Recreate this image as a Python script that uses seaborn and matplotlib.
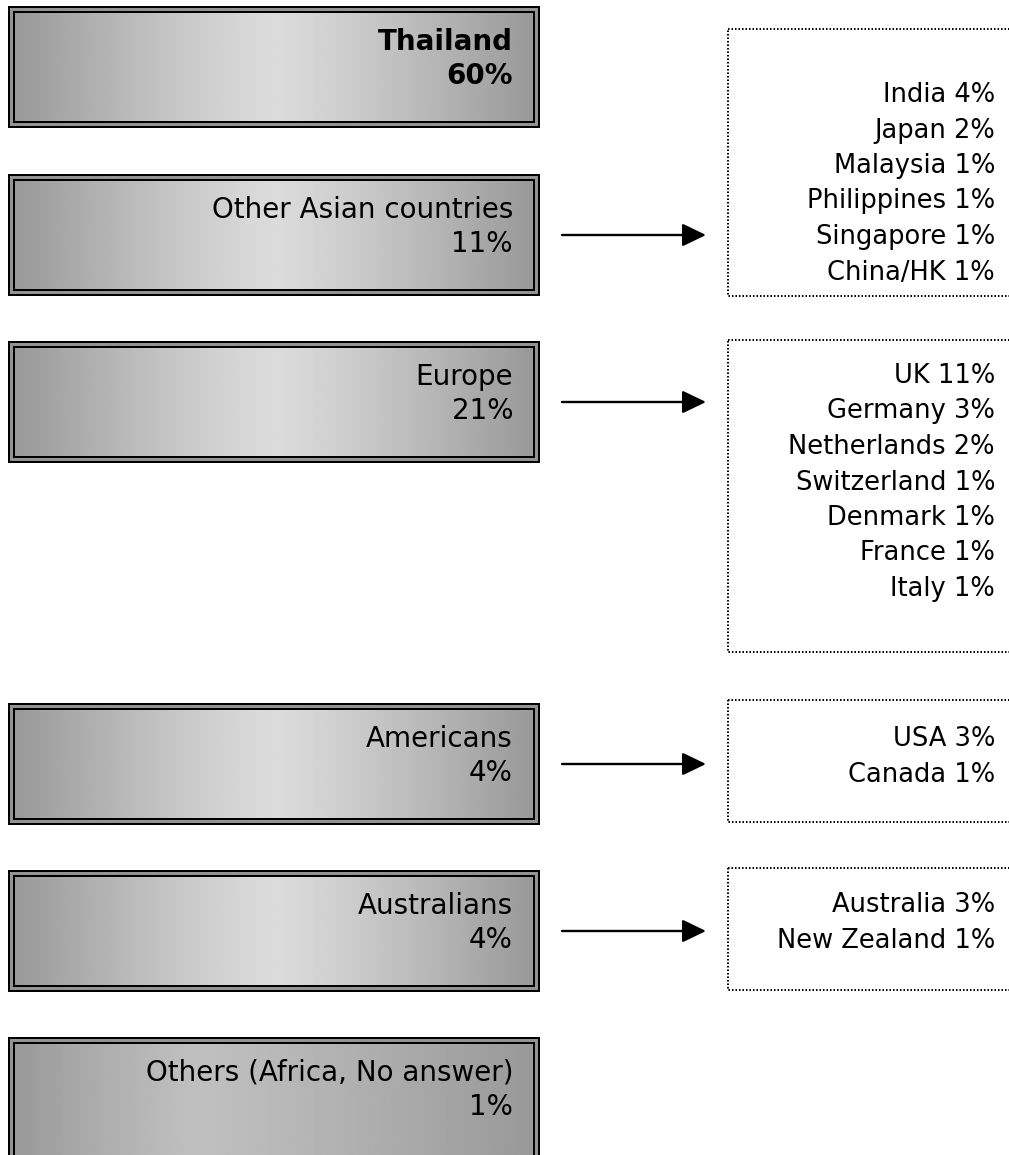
import numpy as np
import matplotlib
matplotlib.use("Agg")
import matplotlib.pyplot as plt
from matplotlib.patches import Rectangle
import seaborn as sns

# ---------------- data ----------------
regions = ["Thailand", "Other Asian countries", "Europe", "Americans",
           "Australians", "Others (Africa, No answer)"]
region_pct = [60, 11, 21, 4, 4, 1]

asia_countries = ["India", "Japan", "Malaysia", "Philippines", "Singapore", "China/HK"]
asia_pct = [4, 2, 1, 1, 1, 1]
europe_countries = ["UK", "Germany", "Netherlands", "Switzerland", "Denmark", "France", "Italy"]
europe_pct = [11, 3, 2, 1, 1, 1, 1]
america_countries = ["USA", "Canada"]
america_pct = [3, 1]
oceania_countries = ["Australia", "New Zealand"]
oceania_pct = [3, 1]

# ---------------- style / layout ----------------
sns.set_theme(style="white")
plt.rcParams["font.family"] = ["DejaVu Sans"]

W, H = 1009, 1155
fig = plt.figure(figsize=(W / 100, H / 100), dpi=100)
ax = fig.add_axes([0, 0, 1, 1])
ax.set_xlim(0, W)
ax.set_ylim(H, 0)
ax.axis("off")

box_x0, box_x1 = 8, 540
box_tops = [6, 174, 341, 703, 870, 1037]
box_hs = [122, 122, 122, 122, 122, 140]
peaks = [0.86, 0.86, 0.86, 0.86, 0.86, 0.75]
peak_pos = [0.5, 0.5, 0.5, 0.5, 0.5, 0.35]
text_right = 513
left_fs = 20
line_gap = 34

def grad_box(x0, y0, x1, y1, peak, ppos):
    # outer black, gray band, inner black, gradient fill
    ax.add_patch(Rectangle((x0, y0), x1 - x0, y1 - y0, facecolor="black", edgecolor="none", zorder=1))
    ax.add_patch(Rectangle((x0 + 2, y0 + 2), x1 - x0 - 4, y1 - y0 - 4, facecolor="#939393", edgecolor="none", zorder=2))
    ax.add_patch(Rectangle((x0 + 5, y0 + 5), x1 - x0 - 10, y1 - y0 - 10, facecolor="black", edgecolor="none", zorder=3))
    t = np.linspace(0, 1, 256)
    d = np.where(t < ppos, (ppos - t) / ppos, (t - ppos) / (1 - ppos))
    v = 0.60 + (peak - 0.60) * (1 - d ** 1.2)
    img = np.tile(v, (2, 1))
    ax.imshow(img, cmap="gray", vmin=0, vmax=1, aspect="auto",
              extent=(x0 + 7, x1 - 7, y1 - 7, y0 + 7), zorder=4, interpolation="bilinear")

for i, (name, pct) in enumerate(zip(regions, region_pct)):
    top = box_tops[i]
    grad_box(box_x0, top, box_x1, top + box_hs[i], peaks[i], peak_pos[i])
    weight = "bold" if i == 0 else "normal"
    ax.text(text_right, top + 44, name, ha="right", va="baseline",
            fontsize=left_fs, fontweight=weight, color="black", zorder=5)
    ax.text(text_right, top + 44 + line_gap, f"{pct}%", ha="right", va="baseline",
            fontsize=left_fs, fontweight=weight, color="black", zorder=5)

# ---------------- detail boxes ----------------
details = [
    (1, asia_countries, asia_pct, 29, 296, 102),
    (2, europe_countries, europe_pct, 340, 652, 383),
    (3, america_countries, america_pct, 700, 822, 746),
    (4, oceania_countries, oceania_pct, 868, 990, 912),
]
right_x0, right_x1 = 728, 1015
right_text_x = 995
right_fs = 18.5
right_gap = 35.5

for idx, names, pcts, y0, y1, first_base in details:
    ax.add_patch(Rectangle((right_x0, y0), right_x1 - right_x0, y1 - y0,
                           facecolor="none", edgecolor="black",
                           linewidth=1.4, linestyle=(0, (0.8, 1.0)), zorder=2))
    for j, (n, p) in enumerate(zip(names, pcts)):
        ax.text(right_text_x, first_base + j * right_gap, f"{n} {p}%",
                ha="right", va="baseline", fontsize=right_fs, color="black", zorder=5)
    yc = box_tops[idx] + 122 / 2
    ax.annotate("", xy=(706, yc), xytext=(562, yc),
                arrowprops=dict(arrowstyle="-|>,head_length=1.45,head_width=0.7",
                                mutation_scale=10, lw=1.7, color="black",
                                shrinkA=0, shrinkB=0))

fig.savefig("out.png", dpi=100)
